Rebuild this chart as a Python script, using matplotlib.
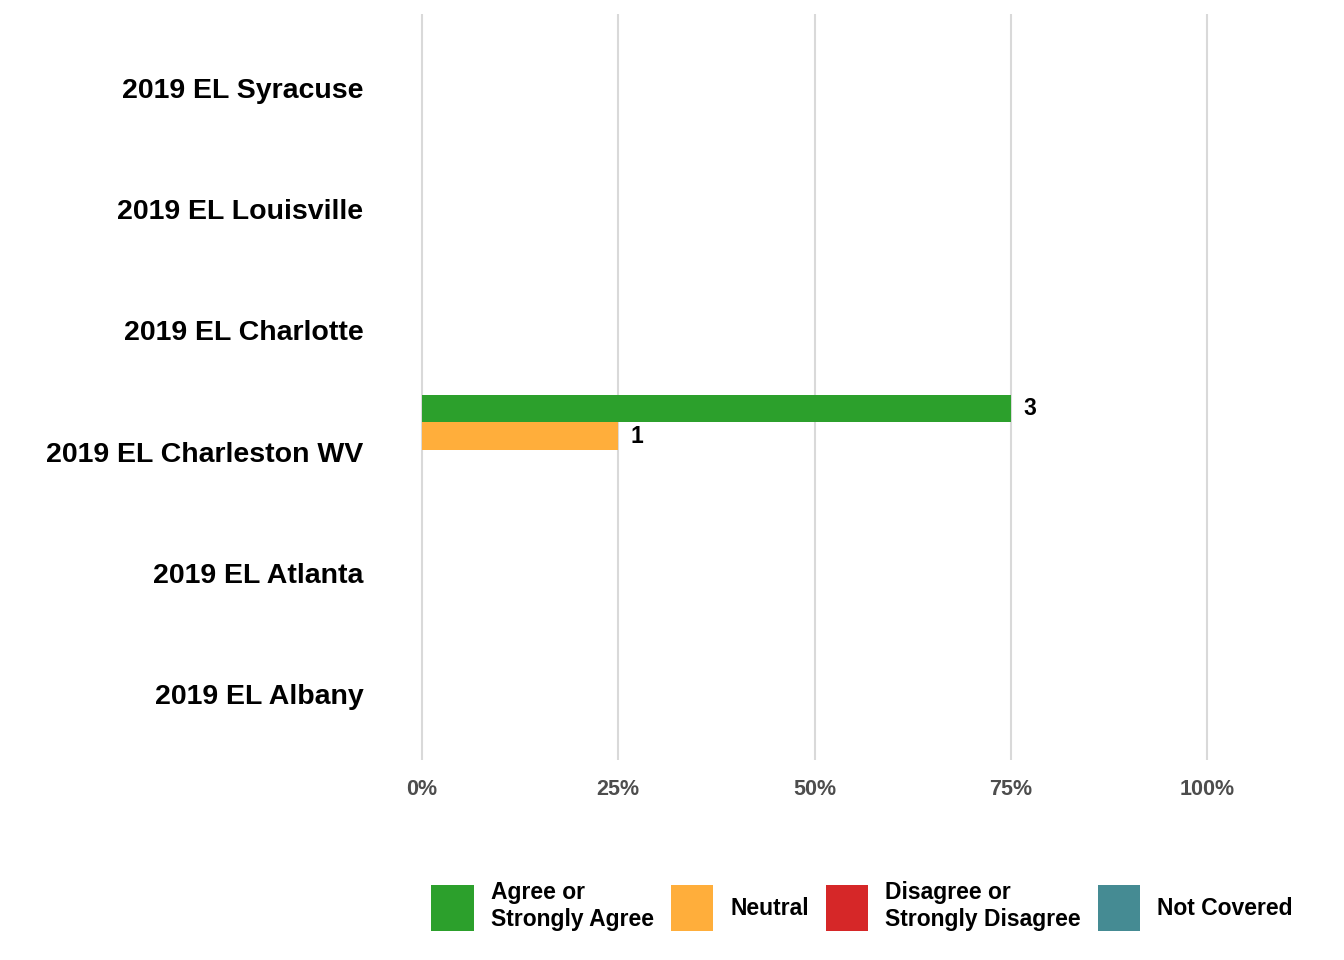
import numpy as np
import matplotlib
matplotlib.use('Agg')
import matplotlib.pyplot as plt
from matplotlib.patches import Patch

plt.rcParams['font.family'] = ['Liberation Sans', 'DejaVu Sans']
plt.rcParams['font.weight'] = 'bold'

# data, bottom to top
categories = ['2019 EL Albany', '2019 EL Atlanta', '2019 EL Charleston WV',
              '2019 EL Charlotte', '2019 EL Louisville', '2019 EL Syracuse']
agree = [0, 0, 3, 0, 0, 0]
neutral = [0, 0, 1, 0, 0, 0]
disagree = [0, 0, 0, 0, 0, 0]
not_covered = [0, 0, 0, 0, 0, 0]

responses = ['Agree or\nStrongly Agree', 'Neutral', 'Disagree or\nStrongly Disagree', 'Not Covered']
colors = ['#2ca02c', '#ffae3b', '#d62728', '#458b93']

counts = np.array([agree, neutral, disagree, not_covered], dtype=float)
totals = counts.sum(axis=0)
pct = np.divide(counts, totals, out=np.zeros_like(counts), where=totals > 0)

fig = plt.figure(figsize=(13.44, 9.6), dpi=100)
ax = fig.add_axes([380 / 1344, 1 - 760 / 960, (1250 - 380) / 1344, (760 - 14) / 960])

y = np.arange(len(categories))
bar_h = 0.225
offsets = [1.5 * bar_h + 0.015, 0.5 * bar_h + 0.015, -0.5 * bar_h + 0.015, -1.5 * bar_h + 0.015]

for i in range(len(responses)):
    for j in range(len(categories)):
        if counts[i, j] > 0:
            ax.barh(y[j] + offsets[i], pct[i, j], height=bar_h, color=colors[i], zorder=2)
            ax.text(pct[i, j] + 0.016, y[j] + offsets[i], '%d' % counts[i, j],
                    va='center', ha='left', fontsize=16.5, fontweight='bold', color='black')

ax.set_xlim(-(422 - 380) / 785, 1 + (1250 - 1207) / 785)
ax.set_ylim(-0.545, 5.61)
ax.set_xticks([0, 0.25, 0.5, 0.75, 1.0])
ax.set_xticklabels(['0%', '25%', '50%', '75%', '100%'], fontsize=15.5, fontweight='bold', color='#4d4d4d')
ax.set_yticks(y)
ax.set_yticklabels(categories, fontsize=20.5, fontweight='bold', color='black')
ax.tick_params(length=0)
ax.tick_params(axis='x', pad=14)
ax.tick_params(axis='y', pad=12)
ax.grid(axis='x', color='#d9d9d9', linewidth=1.5, zorder=0)
ax.set_axisbelow(True)
for s in ax.spines.values():
    s.set_visible(False)

handles = [Patch(facecolor=c, edgecolor='none') for c in colors]
fig.legend(handles, responses, loc='center', bbox_to_anchor=(862 / 1344, 1 - 906 / 960),
           ncol=4, frameon=False, handlelength=1.85, handleheight=2.72,
           handletextpad=0.74, columnspacing=0.74, labelspacing=0.2,
           prop={'weight': 'bold', 'size': 16.5})

plt.savefig('out.png', dpi=100)
